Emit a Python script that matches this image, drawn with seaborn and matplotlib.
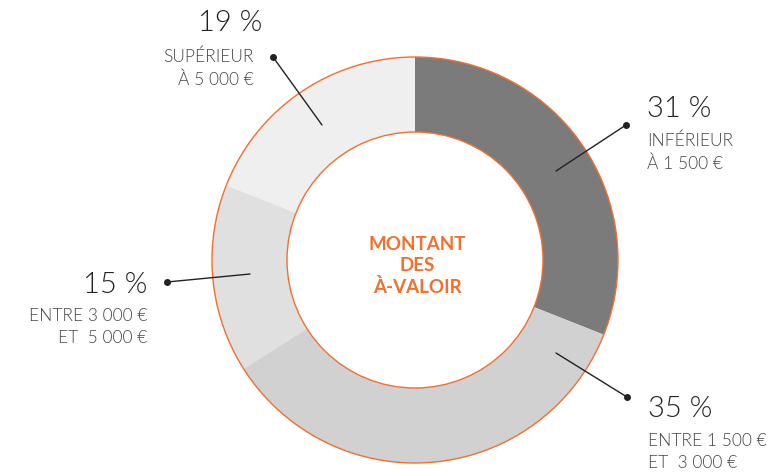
import matplotlib
matplotlib.use('Agg')
import matplotlib.pyplot as plt
import seaborn as sns

sns.set_theme(style='white')
plt.rcParams['font.family'] = ['Lato', 'DejaVu Sans']

# data
shares = [31, 35, 15, 19]
pct_labels = ['31 %', '35 %', '15 %', '19 %']
sub_labels = ['INFÉRIEUR\nÀ 1 500 €', 'ENTRE 1 500 €\nET  3 000 €', 'ENTRE 3 000 €\nET  5 000 €', 'SUPÉRIEUR\nÀ 5 000 €']
colors = ['#7b7b7b', '#d0d1d0', '#e0e0e0', '#efefef']
center_text = 'MONTANT\nDES\nÀ-VALOIR'

orange = '#f26f2d'
W, H = 778, 473
cx, cy, r_out, r_in = 415, 260, 203, 128

fig = plt.figure(figsize=(W / 100, H / 100), dpi=100)
ax = fig.add_axes([0, 0, 1, 1])

ax.pie(shares, colors=colors, center=(cx, cy), radius=r_out, startangle=-90, counterclock=True,
       wedgeprops=dict(width=r_out - r_in, linewidth=0))
ax.add_patch(plt.Circle((cx, cy), r_out, fill=False, ec=orange, lw=1.0))
ax.add_patch(plt.Circle((cx, cy), r_in, fill=False, ec=orange, lw=1.0))

ax.set_xlim(0, W)
ax.set_ylim(H, 0)
ax.set_axis_off()

ax.text(cx + 2, 266, center_text, ha='center', va='center', color=orange, fontsize=13.5,
        fontweight='bold', linespacing=1.3)

# label layout: (dot, line end, pct x, sub x, alignment, pct y, sub y)
layout = [
    ((626, 125), (556, 171), 647, 647, 'left', 109, 152),
    ((627, 397), (556, 353), 648, 648, 'left', 409, 452),
    ((167, 282), (250, 274), 147, 147, 'right', 285, 327),
    ((273, 57), (322, 125), 262, 254, 'right', 23, 68),
]
for (dot, end, px, sx, ha, py, sy), pct, sub in zip(layout, pct_labels, sub_labels):
    ax.plot([dot[0], end[0]], [dot[1], end[1]], color='#222222', lw=1.0)
    ax.plot(*dot, 'o', color='#222222', ms=4)
    ax.text(px, py, pct, ha=ha, va='center', fontsize=21, color='#222222', fontweight=300)
    ax.text(sx, sy, sub, ha=ha, va='center', fontsize=12.5,
            color='#444444', fontweight=300, linespacing=1.45)

fig.savefig('out.png', dpi=100)
